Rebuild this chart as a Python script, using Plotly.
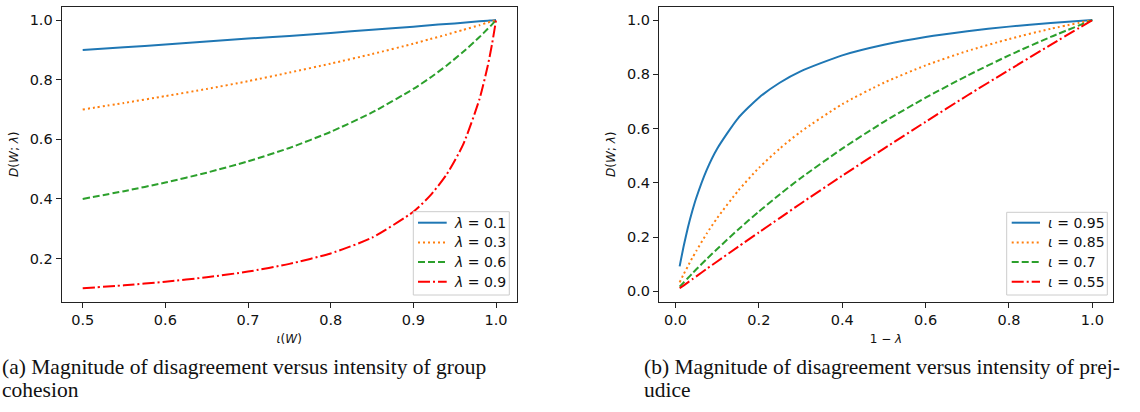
import plotly.graph_objects as go

# ---- panel (a): disagreement versus group cohesion ----
iota_w = [0.5, 0.55, 0.6, 0.65, 0.7, 0.75, 0.8, 0.85, 0.9, 0.92, 0.94, 0.96, 0.98, 0.99, 0.995, 1.0]
d_lam01 = [0.900, 0.909, 0.918, 0.928, 0.938, 0.947, 0.957, 0.968, 0.978, 0.983, 0.987, 0.991, 0.996, 0.998, 0.999, 1.000]
d_lam03 = [0.700, 0.722, 0.745, 0.769, 0.795, 0.824, 0.854, 0.886, 0.921, 0.936, 0.951, 0.967, 0.983, 0.992, 0.996, 1.000]
d_lam06 = [0.400, 0.426, 0.455, 0.488, 0.526, 0.571, 0.625, 0.690, 0.769, 0.806, 0.847, 0.893, 0.943, 0.971, 0.985, 1.000]
d_lam09 = [0.100, 0.110, 0.122, 0.137, 0.156, 0.182, 0.217, 0.270, 0.357, 0.410, 0.481, 0.581, 0.735, 0.847, 0.917, 1.000]
lambda_labels = ["0.1", "0.3", "0.6", "0.9"]

# ---- panel (b): disagreement versus prejudice ----
one_minus_lambda = [0.01, 0.02, 0.03, 0.04, 0.05, 0.075, 0.1, 0.15, 0.2, 0.25, 0.3, 0.4, 0.5, 0.6, 0.7, 0.8, 0.9, 1.0]
d_i095 = [0.092, 0.169, 0.236, 0.294, 0.345, 0.448, 0.526, 0.638, 0.714, 0.769, 0.811, 0.870, 0.909, 0.938, 0.959, 0.976, 0.989, 1.000]
d_i085 = [0.033, 0.064, 0.093, 0.122, 0.149, 0.213, 0.270, 0.370, 0.455, 0.526, 0.588, 0.690, 0.769, 0.833, 0.886, 0.930, 0.968, 1.000]
d_i070 = [0.017, 0.033, 0.049, 0.065, 0.081, 0.119, 0.156, 0.227, 0.294, 0.357, 0.417, 0.526, 0.625, 0.714, 0.795, 0.870, 0.938, 1.000]
d_i055 = [0.011, 0.022, 0.033, 0.044, 0.055, 0.083, 0.110, 0.164, 0.217, 0.270, 0.323, 0.426, 0.526, 0.625, 0.722, 0.816, 0.909, 1.000]
iota_labels = ["0.95", "0.85", "0.7", "0.55"]

# tick labels
xticks_a = [0.5, 0.6, 0.7, 0.8, 0.9, 1.0]
yticks_a = [0.2, 0.4, 0.6, 0.8, 1.0]
xticks_b = [0.0, 0.2, 0.4, 0.6, 0.8, 1.0]
yticks_b = [0.0, 0.2, 0.4, 0.6, 0.8, 1.0]

captions_a = ["(a) Magnitude of disagreement versus intensity of group", "cohesion"]
captions_b = ["(b) Magnitude of disagreement versus intensity of prej-", "udice"]

colors = ["#1f77b4", "#ff7f0e", "#2ca02c", "#ff0000"]
dashes = ["solid", "2px,3px", "7px,3px", "12px,3px,2px,3px"]

W, H = 1140, 412
SANS = "DejaVu Sans"
SERIF = "Liberation Serif"

fig = go.Figure()

for ys, c, d in zip([d_lam01, d_lam03, d_lam06, d_lam09], colors, dashes):
    fig.add_trace(go.Scatter(
        x=iota_w, y=ys, mode="lines", showlegend=False,
        line=dict(color=c, width=2, dash=d, shape="spline", smoothing=0.6),
        xaxis="x", yaxis="y",
    ))

for ys, c, d in zip([d_i095, d_i085, d_i070, d_i055], colors, dashes):
    fig.add_trace(go.Scatter(
        x=one_minus_lambda, y=ys, mode="lines", showlegend=False,
        line=dict(color=c, width=2, dash=d, shape="spline", smoothing=0.6),
        xaxis="x2", yaxis="y2",
    ))


def px_x(p):
    return p / W


def px_y(p):
    return 1 - p / H


axis_common = dict(
    showline=True, mirror=True, linecolor="#222", linewidth=1.2,
    ticks="outside", ticklen=5, tickwidth=1.2, tickcolor="#222",
    showgrid=False, zeroline=False,
    tickfont=dict(family=SANS, size=14.5, color="#111"),
)
title_font = dict(family=SANS, size=12, color="#111")

fig.update_layout(
    width=W, height=H,
    margin=dict(l=0, r=0, t=0, b=0),
    paper_bgcolor="white", plot_bgcolor="white",
    showlegend=False,
    xaxis=dict(domain=[px_x(61.7), px_x(516.7)], range=[0.4746, 1.025],
               tickvals=xticks_a, ticktext=[f"{v:.1f}" for v in xticks_a],
               title=dict(text="<i>ι</i>(<i>W</i>)", font=title_font, standoff=7),
               anchor="y", **axis_common),
    yaxis=dict(domain=[px_y(301.7), px_y(6.7)], range=[0.055, 1.045],
               tickvals=yticks_a, ticktext=[f"{v:.1f}" for v in yticks_a],
               title=dict(text="<i>D</i>(<i>W</i>; <i>λ</i>)", font=title_font, standoff=8),
               anchor="x", **axis_common),
    xaxis2=dict(domain=[px_x(659), px_x(1113)], range=[-0.0395, 1.0495],
                tickvals=xticks_b, ticktext=[f"{v:.1f}" for v in xticks_b],
                title=dict(text="1 − <i>λ</i>", font=title_font, standoff=7),
                anchor="y2", **axis_common),
    yaxis2=dict(domain=[px_y(301.7), px_y(6.7)], range=[-0.0384, 1.0495],
                tickvals=yticks_b, ticktext=[f"{v:.1f}" for v in yticks_b],
                title=dict(text="<i>D</i>(<i>W</i>; <i>λ</i>)", font=title_font, standoff=8),
                anchor="x2", **axis_common),
)


def add_legend(box, line_x, text_x, row_y, symbol, labels):
    """Legend box in the lower-right corner of a panel (pixel coordinates)."""
    x0, y0, x1, y1 = box
    fig.add_shape(type="rect", xref="paper", yref="paper",
                  x0=px_x(x0), x1=px_x(x1), y0=px_y(y1), y1=px_y(y0),
                  fillcolor="rgba(255,255,255,0.85)", line=dict(color="#cccccc", width=1))
    for i, (lab, c, d) in enumerate(zip(labels, colors, dashes)):
        yy = row_y[0] + i * row_y[1]
        fig.add_shape(type="line", xref="paper", yref="paper",
                      x0=px_x(line_x[0]), x1=px_x(line_x[1]), y0=px_y(yy), y1=px_y(yy),
                      line=dict(color=c, width=2, dash=d))
        fig.add_annotation(x=px_x(text_x), y=px_y(yy), xref="paper", yref="paper",
                           xanchor="left", yanchor="middle", showarrow=False,
                           text=f"<i>{symbol}</i> = {lab}",
                           font=dict(family=SANS, size=14, color="#111"))


add_legend((413.3, 211.7, 509.3, 295.0), (418, 446.7), 452, (222.7, 19.7), "λ", lambda_labels)
add_legend((1006.7, 212.3, 1107.3, 295.0), (1011.7, 1040), 1046, (222.7, 19.7), "ι", iota_labels)

# captions under each panel
for lines, x0 in [(captions_a, 0.0), (captions_b, 642.0)]:
    for i, txt in enumerate(lines):
        fig.add_annotation(
            x=px_x(x0), y=px_y(367 + 23 * i), xref="paper", yref="paper",
            xanchor="left", yanchor="middle", showarrow=False, text=txt,
            font=dict(family=SERIF, size=21.5, color="#111"),
        )

fig.write_html("out.html")
